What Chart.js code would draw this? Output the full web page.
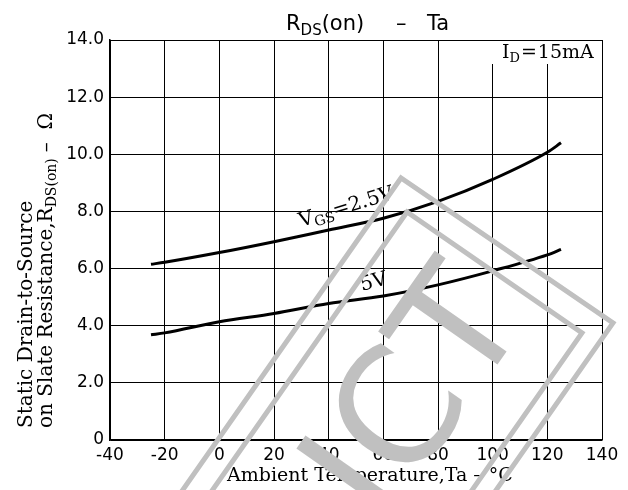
<!DOCTYPE html>
<html>
<head>
<meta charset="utf-8">
<script src="https://cdn.jsdelivr.net/npm/chart.js@4.4.0/dist/chart.umd.min.js"></script>
<style>
  html, body { margin: 0; padding: 0; background: #fff; }
</style>
</head>
<body>
<canvas id="rdsChart" width="628" height="490"></canvas>
<script>
// values
const tempVgs25 = [-25, -20, 0, 20, 40, 60, 80, 100, 120, 125];
const rdsVgs25 = [6.15, 6.22, 6.56, 6.94, 7.35, 7.76, 8.35, 9.12, 10.07, 10.4];
const tempVgs5 = [-25, -20, 0, 20, 40, 60, 80, 100, 120, 125];
const rdsVgs5 = [3.68, 3.75, 4.14, 4.43, 4.78, 5.04, 5.43, 5.92, 6.48, 6.67];

const xTickValues = [-40, -20, 0, 20, 40, 60, 80, 100, 120, 140];
const yTickValues = [0, 2, 4, 6, 8, 10, 12, 14];

const SERIF = '"DejaVu Serif", serif';
const SANS = '"DejaVu Sans", sans-serif';

const toPoints = (xs, ys) => xs.map((x, i) => ({ x: x, y: ys[i] }));

// draw a run of [text, size, dy, extraGap] pieces left to right, returns end x
function drawPieces(ctx, x, y, pieces, family) {
    pieces.forEach(p => {
        ctx.font = p[1] + 'px ' + family;
        ctx.fillText(p[0], x, y + (p[2] || 0));
        x += ctx.measureText(p[0]).width + (p[3] || 0);
    });
    return x;
}

const textPlugin = {
    id: 'textPlugin',
    afterDraw(chart) {
        const ctx = chart.ctx;
        ctx.save();
        ctx.fillStyle = '#000';
        ctx.textAlign = 'left';
        ctx.textBaseline = 'alphabetic';

        // title
        drawPieces(ctx, 286, 30, [['R', 21], ['DS', 15, 5], ['(on)', 21]], SANS);
        ctx.font = '21px ' + SANS;
        ctx.fillText('\u2013', 396, 30);
        ctx.fillText('Ta', 427, 30);

        // I_D box (white background hides grid)
        ctx.fillStyle = '#fff';
        ctx.fillRect(488, 41, 113, 23);
        ctx.fillStyle = '#000';
        drawPieces(ctx, 502, 58, [['I', 19], ['D', 13, 4, 1], ['=', 19, 0, 1], ['15mA', 19]], SERIF);

        // x axis title
        ctx.textAlign = 'center';
        ctx.font = '19px ' + SERIF;
        ctx.fillText('Ambient Temperature,Ta \u2013 \u00b0C', 370, 481);
        ctx.textAlign = 'left';

        // y axis title, two lines, rotated
        ctx.save();
        ctx.translate(32, 428);
        ctx.rotate(-Math.PI / 2);
        drawPieces(ctx, 0, 0, [['Static Drain-to-Source', 20]], SERIF);
        drawPieces(ctx, 0, 20, [['on Slate Resistance,R', 20], ['DS(on)', 14, 4, 6], ['\u2013  \u03a9', 20]], SERIF);
        ctx.restore();

        // curve labels
        ctx.save();
        ctx.translate(301, 227);
        ctx.rotate(-17 * Math.PI / 180);
        drawPieces(ctx, 0, 0, [['V', 20], ['GS', 14, 4], ['=2.5V', 20]], SERIF);
        ctx.restore();

        ctx.save();
        ctx.translate(362, 291);
        ctx.rotate(-15 * Math.PI / 180);
        drawPieces(ctx, 0, 0, [['5V', 20]], SERIF);
        ctx.restore();

        // grey stamp over the chart
        const ux = 0.573, uy = -0.819;
        ctx.strokeStyle = '#c0c0c0';
        ctx.lineWidth = 5;
        [[401, 178, 613, 323], [407, 212, 582, 333]].forEach(f => {
            ctx.beginPath();
            ctx.moveTo(f[0] - ux * 600, f[1] - uy * 600);
            ctx.lineTo(f[0], f[1]);
            ctx.lineTo(f[2], f[3]);
            ctx.lineTo(f[2] - ux * 600, f[3] - uy * 600);
            ctx.stroke();
        });
        ctx.fillStyle = '#c0c0c0';
        ctx.translate(530, 318);
        ctx.rotate(Math.atan2(uy, ux));
        ctx.font = '160px ' + SANS;
        ctx.textAlign = 'right';
        ctx.fillText('ICT', 0, 0);
        ctx.restore();
    }
};

const lineStyle = {
    borderColor: '#000',
    backgroundColor: '#000',
    borderWidth: 3,
    pointRadius: 0,
    fill: false,
    tension: 0.4,
    cubicInterpolationMode: 'monotone',
};

new Chart(document.getElementById('rdsChart'), {
    type: 'line',
    data: {
        datasets: [
            Object.assign({ label: 'VGS=2.5V', data: toPoints(tempVgs25, rdsVgs25) }, lineStyle),
            Object.assign({ label: 'VGS=5V', data: toPoints(tempVgs5, rdsVgs5) }, lineStyle),
        ],
    },
    options: {
        responsive: false,
        animation: false,
        layout: { padding: { left: 0, right: 26, top: 40, bottom: 0 } },
        plugins: {
            legend: { display: false },
            tooltip: { enabled: false },
            title: { display: false },
        },
        scales: {
            x: {
                type: 'linear',
                min: -40,
                max: 140,
                afterBuildTicks: (scale) => { scale.ticks = xTickValues.map(v => ({ value: v })); },
                afterFit: (scale) => { scale.height = 50; },
                grid: { color: '#000', lineWidth: 1, drawTicks: false },
                border: { color: '#000', width: 1.5 },
                ticks: {
                    color: '#000',
                    padding: 5,
                    maxRotation: 0,
                    font: { family: SANS, size: 17 },
                    callback: (v) => String(v),
                },
            },
            y: {
                min: 0,
                max: 14,
                afterBuildTicks: (scale) => { scale.ticks = yTickValues.map(v => ({ value: v })); },
                afterFit: (scale) => { scale.width = 110; },
                grid: { color: '#000', lineWidth: 1, drawTicks: false },
                border: { color: '#000', width: 1.5 },
                ticks: {
                    color: '#000',
                    padding: 6,
                    font: { family: SANS, size: 17 },
                    callback: (v) => (v === 0 ? '0' : v.toFixed(1)),
                },
            },
        },
    },
    plugins: [textPlugin],
});
</script>
</body>
</html>
